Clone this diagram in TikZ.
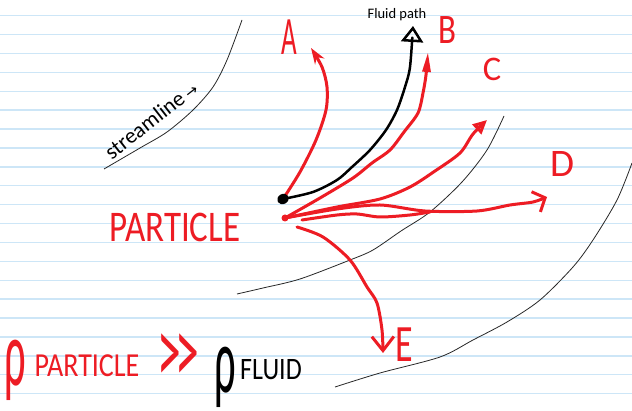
\documentclass[tikz,border=0pt]{standalone}
\usepackage{fontspec}
\usepackage{graphicx}
\setmainfont{Carlito}
\newfontfamily\djv{DejaVu Sans}
\usetikzlibrary{arrows.meta}
\definecolor{pen}{RGB}{237,28,36}
\definecolor{ruled}{RGB}{205,230,247}
\definecolor{sline}{RGB}{40,40,40}
\newcommand\hl[4]{\scalebox{#1}[#2]{\fontsize{#3}{#3}\selectfont #4}}
\begin{document}
\begin{tikzpicture}[x=1pt,y=-1pt,
  redpen/.style={draw=pen,line width=3pt,line cap=round,line join=round},
  blackpen/.style={draw=black,line width=2.5pt,line cap=round,line join=round},
  stream/.style={draw=sline,line width=0.8pt},
  hand/.style={inner sep=0pt,text=pen},
  inkb/.style={inner sep=0pt,text=black},
  ruleline/.style={draw=ruled,line width=1.4pt}]
\useasboundingbox (0,0) rectangle (632,411);
\fill[white] (0,0) rectangle (632,411);
\foreach \i in {0,...,20} \draw[ruleline] (0,15.7+18.9*\i) -- (632,15.7+18.9*\i);

% streamlines
\draw[stream] plot[smooth] coordinates {(242,20) (227,60) (213,87) (193,110) (167,132) (140,148) (104,169)};
\draw[stream] plot[smooth] coordinates {(504,116) (487,150) (462,182) (430,212) (401,231) (373,250) (350,260) (300,279) (263,288) (237,294)};
\draw[stream] plot[smooth] coordinates {(632,163) (617,200) (593,240) (573,267) (540,300) (507,322) (473,340) (440,357) (380,373) (335,387)};

% particle points
\coordinate (p) at (285,218);
\coordinate (b) at (283,199);
\coordinate (tA) at (311,48);
\coordinate (tF) at (413,26);
\coordinate (tB) at (428,52);
\coordinate (tC) at (487,120);
\coordinate (tD) at (547,197);
\coordinate (tE) at (383,353);

% A
\draw[redpen,-{Stealth[length=16pt,width=11pt]}] plot[smooth] coordinates {(b) (300,172) (316,140) (326,110) (327,87) (322,67) (tA)};
% fluid path
\draw[blackpen,-{Triangle[open,length=16pt,width=22pt]}] plot[smooth] coordinates {(b) (313,192) (337,180) (352,167) (370,150) (386,130) (397,110) (405,87) (410,67) (tF)};
% B
\draw[redpen,-{Triangle[length=20pt,width=8pt]}] plot[smooth] coordinates {(p) (320,198) (353,178) (372,163) (390,150) (404,132) (418,113) (423,93) (426,75) (tB)};
% C
\draw[redpen,-{Triangle[open,length=14pt,width=13pt]}] plot[smooth] coordinates {(p) (337,207) (380,199) (410,187) (435,171) (460,153) (473,134) (tC)};
% D
\draw[redpen,-{Straight Barb[length=10pt,width=22pt]}] plot[smooth] coordinates {(p) (337,209) (380,205) (425,211) (477,211) (510,205) (533,202) (tD)};
\draw[redpen] plot[smooth] coordinates {(302,220) (337,215) (357,214) (380,217) (410,215) (430,212)};
% E
\draw[redpen,-{Straight Barb[length=14pt,width=22pt]}] plot[smooth] coordinates {(297,227) (323,237) (350,260) (367,287) (377,303) (382,330) (tE)};

\fill[black,rotate around={30:(b)}] (b) ellipse[x radius=6pt,y radius=5pt];
\fill[pen] (p) circle[radius=3.5pt];

% labels
\node[hand] (la) at (289,37) {\hl{0.9}{1.8}{30}{A}};
\node[hand] (lb) at (447,30) {\hl{1.1}{1.4}{30}{B}};
\node[hand] (lc) at (492,69) {\hl{1.15}{1.15}{30}{C}};
\node[hand] (ld) at (562,164) {\hl{1.3}{1.3}{30}{D}};
\node[hand] (le) at (404,345) {\hl{1.2}{1.75}{30}{E}};
\node[inkb] (fp) at (397,15) {\fontsize{14.5}{14.5}\selectfont Fluid path};
\node[hand] (part) at (175,227) {\hl{1}{1.25}{35}{PARTICLE}};
\node[inkb,rotate=38] (st) at (151,120) {\fontsize{22}{22}\selectfont streamline\hspace{4pt}{\djv\fontsize{15}{15}\selectfont →}};

% bottom formula
\node[hand] (r1) at (15,370) {\hl{0.5}{1.1}{85}{ρ}};
\node[hand] (bp) at (87,366) {\hl{1}{1.2}{28}{PARTICLE}};
\node[hand] (gg) at (178,359) {\hl{0.95}{1.9}{50}{\textgreater\kern-0.12em\textgreater}};
\node[inkb] (r2) at (225,377) {\hl{0.5}{1.1}{85}{ρ}};
\node[inkb] (fl) at (271,370) {\hl{1}{1.2}{26}{FLUID}};
\end{tikzpicture}
\end{document}
